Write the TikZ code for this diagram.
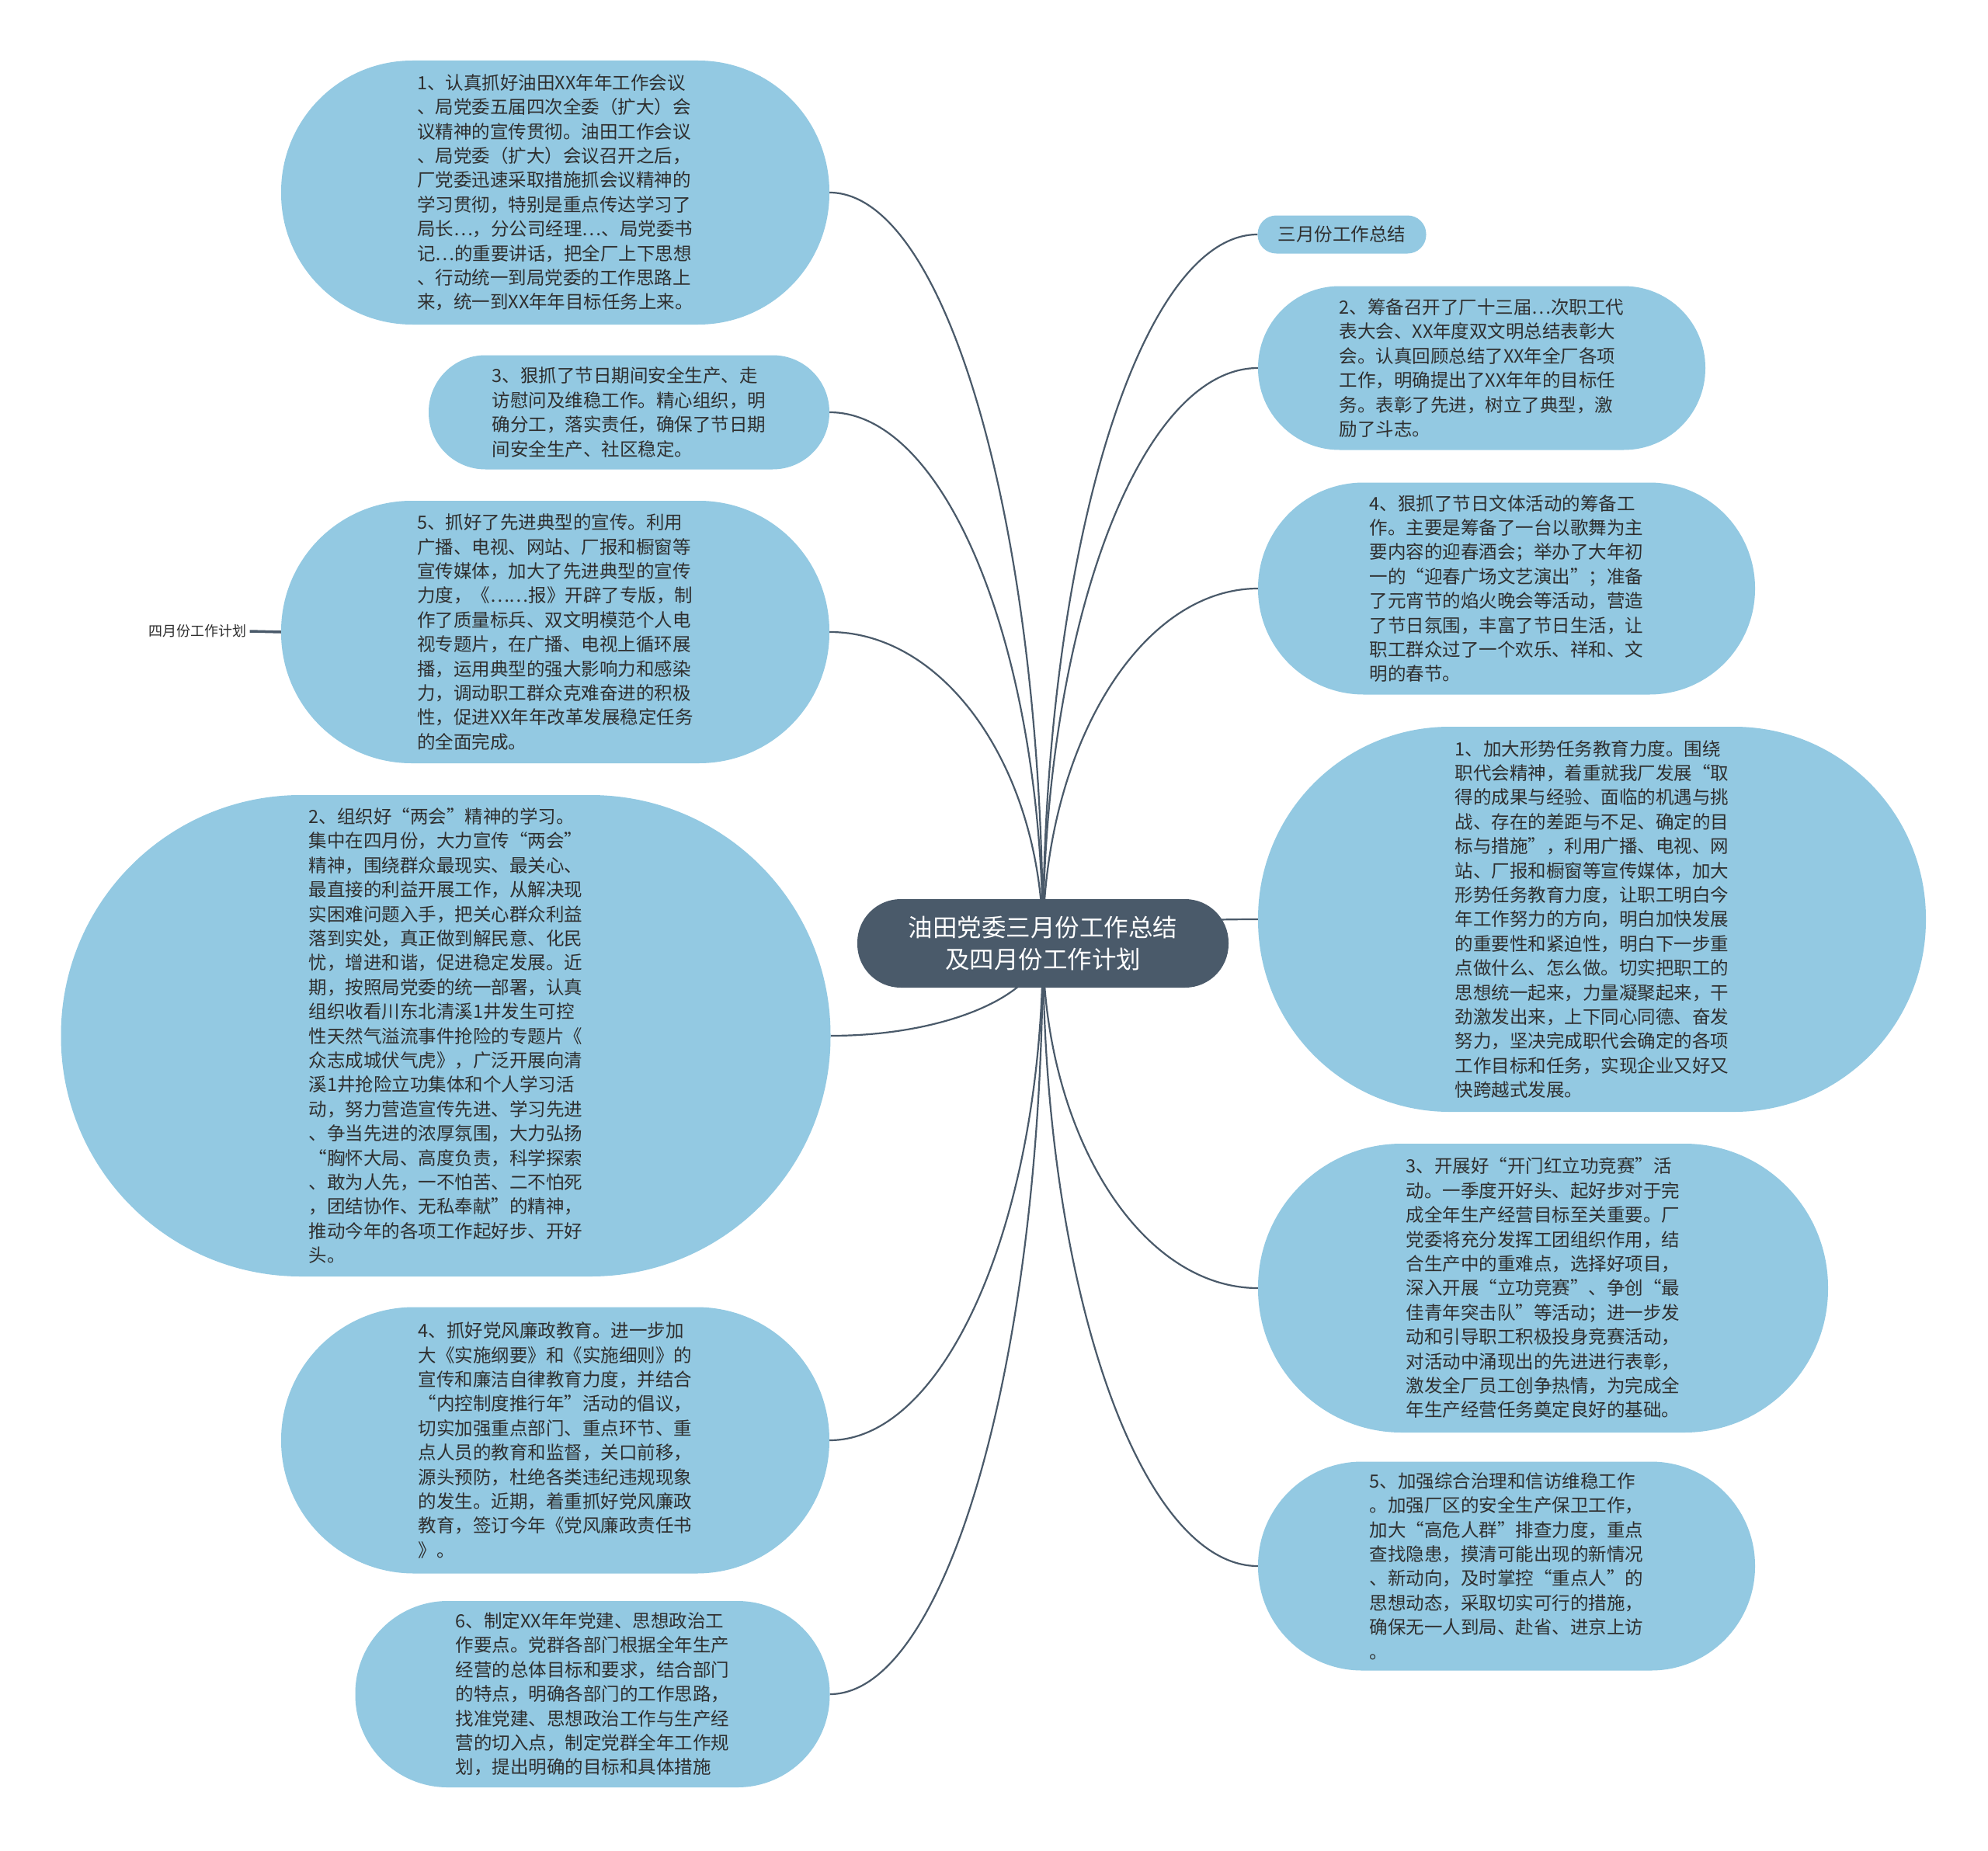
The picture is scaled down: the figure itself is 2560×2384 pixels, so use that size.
\documentclass[tikz,border=0pt]{standalone}
\usepackage{fontspec}
\setmainfont{Noto Sans CJK SC}
\usetikzlibrary{calc}
\definecolor{bub}{HTML}{93C9E2}
\definecolor{ctr}{HTML}{4A5A6A}
\definecolor{lnk}{HTML}{4A5A6A}
\definecolor{txt}{HTML}{2F2F2F}
\pgfdeclarelayer{bg}
\pgfsetlayers{bg,main}
\begin{document}
\begin{tikzpicture}[x=1pt,y=-1pt,
  bubble/.style={rectangle, fill=bub, inner sep=0pt, align=left, text=txt,
    font=\fontsize{23.5}{31.4}\selectfont},
  center node/.style={rectangle, fill=ctr, inner sep=0pt, align=center, text=white,
    font=\fontsize{31.5}{41}\selectfont},
  link/.style={draw=lnk, line width=2.2pt},
  curv/.style={to path={let \p1=(\tikztostart), \p2=(\tikztotarget) in
    .. controls (\x1,{\y1+0.55*(\y2-\y1)}) and ({\x2+0.55*(\x1-\x2)},\y2) .. (\tikztotarget)}}
]
\useasboundingbox (0,0) rectangle (2560,2384);
\begin{pgfonlayer}{bg}
\fill[white] (0,0) rectangle (2560,2384);
\end{pgfonlayer}

% central node
\node[center node, minimum width=478pt, minimum height=114pt, rounded corners=56pt] (c) at (1343,1215)
  {油田党委三月份工作总结\\及四月份工作计划};

% left bubbles
\node[bubble, minimum width=706pt, minimum height=340pt, rounded corners=169pt] (L1) at (715,248)
  {1、认真抓好油田XX年年工作会议\\
   、局党委五届四次全委（扩大）会\\
   议精神的宣传贯彻。油田工作会议\\
   、局党委（扩大）会议召开之后，\\
   厂党委迅速采取措施抓会议精神的\\
   学习贯彻，特别是重点传达学习了\\
   局长…，分公司经理…、局党委书\\
   记…的重要讲话，把全厂上下思想\\
   、行动统一到局党委的工作思路上\\
   来，统一到XX年年目标任务上来。};

\node[bubble, minimum width=516pt, minimum height=147pt, rounded corners=73pt] (L3) at (810,531)
  {3、狠抓了节日期间安全生产、走\\
   访慰问及维稳工作。精心组织，明\\
   确分工，落实责任，确保了节日期\\
   间安全生产、社区稳定。};

\node[bubble, minimum width=706pt, minimum height=338pt, rounded corners=168pt] (L5) at (715,814)
  {5、抓好了先进典型的宣传。利用\\
   广播、电视、网站、厂报和橱窗等\\
   宣传媒体，加大了先进典型的宣传\\
   力度，《……报》开辟了专版，制\\
   作了质量标兵、双文明模范个人电\\
   视专题片，在广播、电视上循环展\\
   播，运用典型的强大影响力和感染\\
   力，调动职工群众克难奋进的积极\\
   性，促进XX年年改革发展稳定任务\\
   的全面完成。};

\node[inner sep=4.5pt, text=txt, font=\fontsize{18}{22}\selectfont] (apr) at (254,813) {四月份工作计划};

\node[bubble, minimum width=991pt, minimum height=620pt, rounded corners=309pt] (L2) at (574,1334)
  {2、组织好“两会”精神的学习。\\
   集中在四月份，大力宣传“两会”\\
   精神，围绕群众最现实、最关心、\\
   最直接的利益开展工作，从解决现\\
   实困难问题入手，把关心群众利益\\
   落到实处，真正做到解民意、化民\\
   忧，增进和谐，促进稳定发展。近\\
   期，按照局党委的统一部署，认真\\
   组织收看川东北清溪1井发生可控\\
   性天然气溢流事件抢险的专题片《\\
   众志成城伏气虎》，广泛开展向清\\
   溪1井抢险立功集体和个人学习活\\
   动，努力营造宣传先进、学习先进\\
   、争当先进的浓厚氛围，大力弘扬\\
   “胸怀大局、高度负责，科学探索\\
   、敢为人先，一不怕苦、二不怕死\\
   ，团结协作、无私奉献”的精神，\\
   推动今年的各项工作起好步、开好\\
   头。};

\node[bubble, minimum width=706pt, minimum height=343pt, rounded corners=171pt] (L4) at (715,1855)
  {4、抓好党风廉政教育。进一步加\\
   大《实施纲要》和《实施细则》的\\
   宣传和廉洁自律教育力度，并结合\\
   “内控制度推行年”活动的倡议，\\
   切实加强重点部门、重点环节、重\\
   点人员的教育和监督，关口前移，\\
   源头预防，杜绝各类违纪违规现象\\
   的发生。近期，着重抓好党风廉政\\
   教育，签订今年《党风廉政责任书\\
   》。};

\node[bubble, minimum width=611pt, minimum height=240pt, rounded corners=119pt] (L6) at (763,2182)
  {6、制定XX年年党建、思想政治工\\
   作要点。党群各部门根据全年生产\\
   经营的总体目标和要求，结合部门\\
   的特点，明确各部门的工作思路，\\
   找准党建、思想政治工作与生产经\\
   营的切入点，制定党群全年工作规\\
   划，提出明确的目标和具体措施};

% right bubbles
\node[bubble, minimum width=217pt, minimum height=49pt, rounded corners=24pt] (R0) at (1728,302)
  {三月份工作总结};

\node[bubble, minimum width=576pt, minimum height=211pt, rounded corners=105pt] (R2) at (1908,474)
  {2、筹备召开了厂十三届…次职工代\\
   表大会、XX年度双文明总结表彰大\\
   会。认真回顾总结了XX年全厂各项\\
   工作，明确提出了XX年年的目标任\\
   务。表彰了先进，树立了典型，激\\
   励了斗志。};

\node[bubble, minimum width=640pt, minimum height=273pt, rounded corners=136pt] (R4) at (1940,758)
  {4、狠抓了节日文体活动的筹备工\\
   作。主要是筹备了一台以歌舞为主\\
   要内容的迎春酒会；举办了大年初\\
   一的“迎春广场文艺演出”；准备\\
   了元宵节的焰火晚会等活动，营造\\
   了节日氛围，丰富了节日生活，让\\
   职工群众过了一个欢乐、祥和、文\\
   明的春节。};

\node[bubble, minimum width=860pt, minimum height=496pt, rounded corners=247pt] (R1) at (2050,1184)
  {1、加大形势任务教育力度。围绕\\
   职代会精神，着重就我厂发展“取\\
   得的成果与经验、面临的机遇与挑\\
   战、存在的差距与不足、确定的目\\
   标与措施”，利用广播、电视、网\\
   站、厂报和橱窗等宣传媒体，加大\\
   形势任务教育力度，让职工明白今\\
   年工作努力的方向，明白加快发展\\
   的重要性和紧迫性，明白下一步重\\
   点做什么、怎么做。切实把职工的\\
   思想统一起来，力量凝聚起来，干\\
   劲激发出来，上下同心同德、奋发\\
   努力，坚决完成职代会确定的各项\\
   工作目标和任务，实现企业又好又\\
   快跨越式发展。};

\node[bubble, minimum width=734pt, minimum height=372pt, rounded corners=185pt] (R3) at (1987,1659)
  {3、开展好“开门红立功竞赛”活\\
   动。一季度开好头、起好步对于完\\
   成全年生产经营目标至关重要。厂\\
   党委将充分发挥工团组织作用，结\\
   合生产中的重难点，选择好项目，\\
   深入开展“立功竞赛”、争创“最\\
   佳青年突击队”等活动；进一步发\\
   动和引导职工积极投身竞赛活动，\\
   对活动中涌现出的先进进行表彰，\\
   激发全厂员工创争热情，为完成全\\
   年生产经营任务奠定良好的基础。};

\node[bubble, minimum width=640pt, minimum height=269pt, rounded corners=134pt] (R5) at (1940,2017)
  {5、加强综合治理和信访维稳工作\\
   。加强厂区的安全生产保卫工作，\\
   加大“高危人群”排查力度，重点\\
   查找隐患，摸清可能出现的新情况\\
   、新动向，及时掌控“重点人”的\\
   思想动态，采取切实可行的措施，\\
   确保无一人到局、赴省、进京上访\\
   。};

% connectors
\begin{pgfonlayer}{bg}
\path[link] (c.center) to[curv] (L1.east);
\path[link] (c.center) to[curv] (L3.east);
\path[link] (c.center) to[curv] (L5.east);
\path[link] (c.center) to[curv] (L2.east);
\path[link] (c.center) to[curv] (L4.east);
\path[link] (c.center) to[curv] (L6.east);
\path[link] (c.center) to[curv] (R0.west);
\path[link] (c.center) to[curv] (R2.west);
\path[link] (c.center) to[curv] (R4.west);
\path[link] (c.center) to[curv] (R1.west);
\path[link] (c.center) to[curv] (R3.west);
\path[link] (c.center) to[curv] (R5.west);
\end{pgfonlayer}
\draw[draw=lnk, line width=3.5pt] (apr.east) -- (L5.west);
\end{tikzpicture}
\end{document}
